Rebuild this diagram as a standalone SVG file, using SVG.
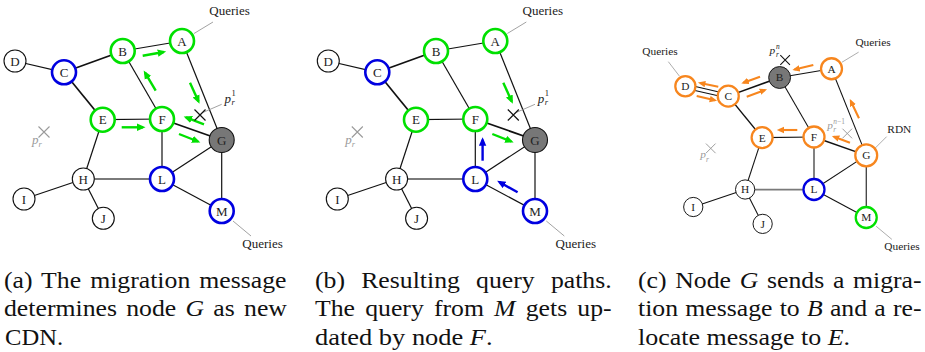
<svg xmlns="http://www.w3.org/2000/svg" width="925" height="352" viewBox="0 0 925 352">
<defs>
<marker id="mg" markerUnits="userSpaceOnUse" markerWidth="10" markerHeight="10" refX="6" refY="4" orient="auto"><path d="M0,0.3 L8.5,4 L0,7.7 z" fill="#00e000"/></marker>
<marker id="mb" markerUnits="userSpaceOnUse" markerWidth="10" markerHeight="10" refX="6" refY="4" orient="auto"><path d="M0,0.3 L8.5,4 L0,7.7 z" fill="#0000e0"/></marker>
<marker id="mo" markerUnits="userSpaceOnUse" markerWidth="10" markerHeight="10" refX="6" refY="4" orient="auto"><path d="M0,0.3 L8.5,4 L0,7.7 z" fill="#f7861e"/></marker>
<g id="graph-edges">
<line x1="64" y1="72.3" x2="122.7" y2="51" stroke-width="1.7"/>
<line x1="122.7" y1="51" x2="182" y2="41"/>
<line x1="64" y1="72.3" x2="102.7" y2="119.7" stroke-width="1.7"/>
<line x1="122.7" y1="51" x2="162" y2="119"/>
<line x1="182" y1="41" x2="221.7" y2="140"/>
<line x1="102.7" y1="119.7" x2="162" y2="119"/>
<line x1="162" y1="119" x2="221.7" y2="140" stroke-width="1.7"/>
<line x1="162" y1="119" x2="162" y2="179"/>
<line x1="162" y1="179" x2="221.7" y2="140"/>
<line x1="221.7" y1="140" x2="221.7" y2="211"/>
<line x1="162" y1="179" x2="221.7" y2="211"/>
<line x1="102.7" y1="119.7" x2="83.3" y2="179"/>
<line x1="83.3" y1="179" x2="162" y2="179" stroke="#7a7a7a" stroke-width="2"/>
<line x1="83.3" y1="179" x2="24" y2="199"/>
<line x1="83.3" y1="179" x2="103.3" y2="218.3"/>
<line x1="194" y1="33.5" x2="213" y2="22" stroke="#8a8a8a" stroke-width="0.8"/>
<line x1="233" y1="221" x2="251" y2="236" stroke="#8a8a8a" stroke-width="0.8"/>
</g>
<path id="cross" d="M-5.5,-5.5 L5.5,5.5 M-5.5,5.5 L5.5,-5.5"/>
</defs>

<!-- Panel (a) -->
<g id="panel-a">
<g id="a-connectors" stroke="#111" stroke-width="1.2" fill="none">
<line x1="15" y1="61" x2="64" y2="72.3"/>
<use href="#graph-edges"/>
<line x1="203.3" y1="112.3" x2="221.7" y2="104.3" stroke="#8a8a8a" stroke-width="0.8"/>
</g>
<g id="a-arrows" stroke="#00e000" stroke-width="2.4" marker-end="url(#mg)">
<line x1="142.7" y1="55.7" x2="163.7" y2="52"/>
<line x1="155.7" y1="90.7" x2="145" y2="72.7"/>
<line x1="190" y1="82.7" x2="198.5" y2="101.5"/>
<line x1="204" y1="124.3" x2="186" y2="117.4"/>
<line x1="121.7" y1="127.3" x2="143" y2="127.3"/>
<line x1="179" y1="134" x2="198" y2="141.5"/>
</g>
<g id="a-nodes" font-family="Liberation Serif, serif" font-size="13" text-anchor="middle">
<g id="a-node-D"><circle cx="15" cy="61" r="11" fill="#fff" stroke="#111" stroke-width="1.1"/><text font-family="Liberation Serif, serif" fill="#222" x="15" y="65.5">D</text></g>
<g id="a-node-C"><circle cx="64" cy="72.3" r="12" fill="#fff" stroke="#0000e0" stroke-width="2.6"/><text font-family="Liberation Serif, serif" fill="#222" x="64" y="76.8">C</text></g>
<g id="a-node-B"><circle cx="122.7" cy="51" r="12" fill="#fff" stroke="#00e000" stroke-width="2.6"/><text font-family="Liberation Serif, serif" fill="#222" x="122.7" y="55.5">B</text></g>
<g id="a-node-A"><circle cx="182" cy="41" r="12" fill="#fff" stroke="#00e000" stroke-width="2.6"/><text font-family="Liberation Serif, serif" fill="#222" x="182" y="45.5">A</text></g>
<g id="a-node-E"><circle cx="102.7" cy="119.7" r="12" fill="#fff" stroke="#00e000" stroke-width="2.6"/><text font-family="Liberation Serif, serif" fill="#222" x="102.7" y="124.2">E</text></g>
<g id="a-node-F"><circle cx="162" cy="119" r="12" fill="#fff" stroke="#00e000" stroke-width="2.6"/><text font-family="Liberation Serif, serif" fill="#222" x="162" y="123.5">F</text></g>
<g id="a-node-G"><circle cx="221.7" cy="140" r="12.5" fill="#777" stroke="#111" stroke-width="1.1"/><text font-family="Liberation Serif, serif" fill="#222" x="221.7" y="144.5">G</text></g>
<g id="a-node-L"><circle cx="162" cy="179" r="12" fill="#fff" stroke="#0000e0" stroke-width="2.6"/><text font-family="Liberation Serif, serif" fill="#222" x="162" y="183.5">L</text></g>
<g id="a-node-H"><circle cx="83.3" cy="179" r="11" fill="#fff" stroke="#111" stroke-width="1.1"/><text font-family="Liberation Serif, serif" fill="#222" x="83.3" y="183.5">H</text></g>
<g id="a-node-I"><circle cx="24" cy="199" r="11" fill="#fff" stroke="#111" stroke-width="1.1"/><text font-family="Liberation Serif, serif" fill="#222" x="24" y="203.5">I</text></g>
<g id="a-node-J"><circle cx="103.3" cy="218.3" r="11" fill="#fff" stroke="#111" stroke-width="1.1"/><text font-family="Liberation Serif, serif" fill="#222" x="103.3" y="222.8">J</text></g>
<g id="a-node-M"><circle cx="221.7" cy="211" r="12" fill="#fff" stroke="#0000e0" stroke-width="2.6"/><text font-family="Liberation Serif, serif" fill="#222" x="221.7" y="215.5">M</text></g>
</g>
<g id="a-labels" font-family="Liberation Serif, serif" font-size="13">
<text font-family="Liberation Serif, serif" fill="#222" text-anchor="middle" x="229.5" y="14.5">Queries</text>
<text font-family="Liberation Serif, serif" fill="#222" text-anchor="middle" x="262.5" y="248">Queries</text>
<use href="#cross" x="200" y="115" stroke="#111" stroke-width="1.2"/>
<text font-family="Liberation Serif, serif" font-style="italic" fill="#222" x="224.5" y="102.5">p</text>
<text font-family="Liberation Serif, serif" font-size="8.5" fill="#222" x="231.5" y="96">1</text>
<text font-family="Liberation Serif, serif" font-size="8.5" font-style="italic" fill="#222" x="231.5" y="105">r</text>
<use href="#cross" x="44" y="132" stroke="#9a9a9a" stroke-width="1.1"/>
<text font-family="Liberation Serif, serif" font-style="italic" fill="#9a9a9a" x="32" y="143.5">p</text>
<text font-family="Liberation Serif, serif" font-size="8.5" font-style="italic" fill="#9a9a9a" x="38.5" y="147">r</text>
</g>
</g>

<!-- Panel (b) -->
<g id="panel-b" transform="translate(313.3,0)">
<g id="b-connectors" stroke="#111" stroke-width="1.2" fill="none">
<line x1="15" y1="61" x2="64" y2="72.3"/>
<use href="#graph-edges"/>
<line x1="203.3" y1="112.3" x2="221.7" y2="104.3" stroke="#8a8a8a" stroke-width="0.8"/>
</g>
<g id="b-arrows" stroke-width="2.4">
<line x1="190" y1="82.7" x2="198.5" y2="101.5" stroke="#00e000" marker-end="url(#mg)"/>
<line x1="179" y1="134" x2="198" y2="141.5" stroke="#00e000" marker-end="url(#mg)"/>
<line x1="169.3" y1="160.7" x2="169.3" y2="139.7" stroke="#0000e0" marker-end="url(#mb)"/>
<line x1="204.3" y1="192.3" x2="186" y2="182" stroke="#0000e0" marker-end="url(#mb)"/>
</g>
<g id="b-nodes" font-family="Liberation Serif, serif" font-size="13" text-anchor="middle">
<g id="b-node-D"><circle cx="15" cy="61" r="11" fill="#fff" stroke="#111" stroke-width="1.1"/><text font-family="Liberation Serif, serif" fill="#222" x="15" y="65.5">D</text></g>
<g id="b-node-C"><circle cx="64" cy="72.3" r="12" fill="#fff" stroke="#0000e0" stroke-width="2.6"/><text font-family="Liberation Serif, serif" fill="#222" x="64" y="76.8">C</text></g>
<g id="b-node-B"><circle cx="122.7" cy="51" r="12" fill="#fff" stroke="#00e000" stroke-width="2.6"/><text font-family="Liberation Serif, serif" fill="#222" x="122.7" y="55.5">B</text></g>
<g id="b-node-A"><circle cx="182" cy="41" r="12" fill="#fff" stroke="#00e000" stroke-width="2.6"/><text font-family="Liberation Serif, serif" fill="#222" x="182" y="45.5">A</text></g>
<g id="b-node-E"><circle cx="102.7" cy="119.7" r="12" fill="#fff" stroke="#00e000" stroke-width="2.6"/><text font-family="Liberation Serif, serif" fill="#222" x="102.7" y="124.2">E</text></g>
<g id="b-node-F"><circle cx="162" cy="119" r="12" fill="#fff" stroke="#00e000" stroke-width="2.6"/><text font-family="Liberation Serif, serif" fill="#222" x="162" y="123.5">F</text></g>
<g id="b-node-G"><circle cx="221.7" cy="140" r="12.5" fill="#777" stroke="#111" stroke-width="1.1"/><text font-family="Liberation Serif, serif" fill="#222" x="221.7" y="144.5">G</text></g>
<g id="b-node-L"><circle cx="162" cy="179" r="12" fill="#fff" stroke="#0000e0" stroke-width="2.6"/><text font-family="Liberation Serif, serif" fill="#222" x="162" y="183.5">L</text></g>
<g id="b-node-H"><circle cx="83.3" cy="179" r="11" fill="#fff" stroke="#111" stroke-width="1.1"/><text font-family="Liberation Serif, serif" fill="#222" x="83.3" y="183.5">H</text></g>
<g id="b-node-I"><circle cx="24" cy="199" r="11" fill="#fff" stroke="#111" stroke-width="1.1"/><text font-family="Liberation Serif, serif" fill="#222" x="24" y="203.5">I</text></g>
<g id="b-node-J"><circle cx="103.3" cy="218.3" r="11" fill="#fff" stroke="#111" stroke-width="1.1"/><text font-family="Liberation Serif, serif" fill="#222" x="103.3" y="222.8">J</text></g>
<g id="b-node-M"><circle cx="221.7" cy="211" r="12" fill="#fff" stroke="#0000e0" stroke-width="2.6"/><text font-family="Liberation Serif, serif" fill="#222" x="221.7" y="215.5">M</text></g>
</g>
<g id="b-labels" font-family="Liberation Serif, serif" font-size="13">
<text font-family="Liberation Serif, serif" fill="#222" text-anchor="middle" x="229.5" y="14.5">Queries</text>
<text font-family="Liberation Serif, serif" fill="#222" text-anchor="middle" x="262.5" y="248">Queries</text>
<use href="#cross" x="200" y="115" stroke="#111" stroke-width="1.2"/>
<text font-family="Liberation Serif, serif" font-style="italic" fill="#222" x="224.5" y="102.5">p</text>
<text font-family="Liberation Serif, serif" font-size="8.5" fill="#222" x="231.5" y="96">1</text>
<text font-family="Liberation Serif, serif" font-size="8.5" font-style="italic" fill="#222" x="231.5" y="105">r</text>
<use href="#cross" x="44" y="132" stroke="#9a9a9a" stroke-width="1.1"/>
<text font-family="Liberation Serif, serif" font-style="italic" fill="#9a9a9a" x="32" y="143.5">p</text>
<text font-family="Liberation Serif, serif" font-size="8.5" font-style="italic" fill="#9a9a9a" x="38.5" y="147">r</text>
</g>
</g>

<!-- Panel (c) -->
<g id="panel-c" transform="translate(672.25,32.875) scale(0.875)">
<g id="c-connectors" stroke="#111" stroke-width="1.2" fill="none">
<line x1="15.4" y1="58.8" x2="64.4" y2="70.1"/>
<line x1="14.6" y1="63.2" x2="63.6" y2="74.5"/>
<use href="#graph-edges"/>
<line x1="-4.5" y1="32.9" x2="8.1" y2="49.3" stroke="#8a8a8a" stroke-width="0.8"/>
<line x1="231.7" y1="131.9" x2="245" y2="118.6" stroke="#8a8a8a" stroke-width="0.8"/>
</g>
<g id="c-arrows" stroke="#f7861e" stroke-width="2.4" marker-end="url(#mo)">
<line x1="161.2" y1="36.7" x2="139.7" y2="41.9"/>
<line x1="100.3" y1="50.1" x2="81.3" y2="56.9"/>
<line x1="52.6" y1="61.5" x2="31.8" y2="57.3"/>
<line x1="27.9" y1="72.1" x2="48.8" y2="77"/>
<line x1="85.1" y1="72.9" x2="106" y2="65.2"/>
<line x1="213.4" y1="97.6" x2="204" y2="77.8"/>
<line x1="142.9" y1="111" x2="122" y2="111"/>
<line x1="203.1" y1="125.5" x2="184.8" y2="118.6"/>
</g>
<g id="c-nodes" font-family="Liberation Serif, serif" font-size="13" text-anchor="middle">
<g id="c-node-D"><circle cx="15" cy="61" r="11.5" fill="#fff" stroke="#f7861e" stroke-width="2.6"/><text font-family="Liberation Serif, serif" fill="#222" x="15" y="65.5">D</text></g>
<g id="c-node-C"><circle cx="64" cy="72.3" r="12" fill="#fff" stroke="#f7861e" stroke-width="2.6"/><text font-family="Liberation Serif, serif" fill="#222" x="64" y="76.8">C</text></g>
<g id="c-node-B"><circle cx="122.7" cy="51" r="12.5" fill="#777" stroke="#111" stroke-width="1.1"/><text font-family="Liberation Serif, serif" fill="#222" x="122.7" y="55.5">B</text></g>
<g id="c-node-A"><circle cx="182" cy="41" r="12" fill="#fff" stroke="#f7861e" stroke-width="2.6"/><text font-family="Liberation Serif, serif" fill="#222" x="182" y="45.5">A</text></g>
<g id="c-node-E"><circle cx="102.7" cy="119.7" r="12" fill="#fff" stroke="#f7861e" stroke-width="2.6"/><text font-family="Liberation Serif, serif" fill="#222" x="102.7" y="124.2">E</text></g>
<g id="c-node-F"><circle cx="162" cy="119" r="12" fill="#fff" stroke="#f7861e" stroke-width="2.6"/><text font-family="Liberation Serif, serif" fill="#222" x="162" y="123.5">F</text></g>
<g id="c-node-G"><circle cx="221.7" cy="140" r="12.5" fill="#fff" stroke="#f7861e" stroke-width="2.6"/><text font-family="Liberation Serif, serif" fill="#222" x="221.7" y="144.5">G</text></g>
<g id="c-node-L"><circle cx="162" cy="179" r="12" fill="#fff" stroke="#0000e0" stroke-width="2.6"/><text font-family="Liberation Serif, serif" fill="#222" x="162" y="183.5">L</text></g>
<g id="c-node-H"><circle cx="83.3" cy="179" r="11" fill="#fff" stroke="#111" stroke-width="1.1"/><text font-family="Liberation Serif, serif" fill="#222" x="83.3" y="183.5">H</text></g>
<g id="c-node-I"><circle cx="24" cy="199" r="11" fill="#fff" stroke="#111" stroke-width="1.1"/><text font-family="Liberation Serif, serif" fill="#222" x="24" y="203.5">I</text></g>
<g id="c-node-J"><circle cx="103.3" cy="218.3" r="11" fill="#fff" stroke="#111" stroke-width="1.1"/><text font-family="Liberation Serif, serif" fill="#222" x="103.3" y="222.8">J</text></g>
<g id="c-node-M"><circle cx="221.7" cy="211" r="12" fill="#fff" stroke="#00e000" stroke-width="2.6"/><text font-family="Liberation Serif, serif" fill="#222" x="221.7" y="215.5">M</text></g>
</g>
<g id="c-labels" font-family="Liberation Serif, serif" font-size="13">
<text font-family="Liberation Serif, serif" fill="#222" text-anchor="middle" x="-14" y="25.5">Queries</text>
<text font-family="Liberation Serif, serif" fill="#222" text-anchor="middle" x="229.5" y="14.5">Queries</text>
<text font-family="Liberation Serif, serif" fill="#222" text-anchor="middle" x="259.5" y="114">RDN</text>
<text font-family="Liberation Serif, serif" fill="#222" text-anchor="middle" x="262.5" y="248">Queries</text>
<use href="#cross" x="129" y="31" stroke="#111" stroke-width="1.2"/>
<text font-family="Liberation Serif, serif" font-style="italic" fill="#222" x="111" y="24">p</text>
<text font-family="Liberation Serif, serif" font-size="8.5" font-style="italic" fill="#222" x="118.5" y="18.5">n</text>
<text font-family="Liberation Serif, serif" font-size="8.5" font-style="italic" fill="#222" x="118.5" y="27">r</text>
<use href="#cross" x="200" y="115" stroke="#9a9a9a" stroke-width="1.1"/>
<text font-family="Liberation Serif, serif" font-style="italic" fill="#9a9a9a" x="177" y="110">p</text>
<text font-family="Liberation Serif, serif" font-size="8.5" font-style="italic" fill="#9a9a9a" x="184" y="104">n<tspan font-style="normal">−1</tspan></text>
<text font-family="Liberation Serif, serif" font-size="8.5" font-style="italic" fill="#9a9a9a" x="184" y="113.5">r</text>
<use href="#cross" x="44" y="132" stroke="#9a9a9a" stroke-width="1.1"/>
<text font-family="Liberation Serif, serif" font-style="italic" fill="#9a9a9a" x="32" y="143.5">p</text>
<text font-family="Liberation Serif, serif" font-size="8.5" font-style="italic" fill="#9a9a9a" x="38.5" y="147">r</text>
</g>
</g>

<!-- Captions -->
<g id="captions" fill="#111" font-family="Liberation Serif, serif" font-size="23">
<text font-family="Liberation Serif" font-size="23" transform="translate(4,287.5) scale(1.12,1)" word-spacing="2.3">(a) The migration message</text>
<text font-family="Liberation Serif" font-size="23" transform="translate(4,316) scale(1.12,1)" word-spacing="2.5">determines node <tspan font-style="italic">G</tspan> as new</text>
<text font-family="Liberation Serif" font-size="23" transform="translate(5,344.5) scale(1.07,1)">CDN.</text>
<text font-family="Liberation Serif" font-size="23" transform="translate(315,287.5) scale(1.12,1)" word-spacing="8.7">(b) Resulting query paths.</text>
<text font-family="Liberation Serif" font-size="23" transform="translate(315,316) scale(1.12,1)" word-spacing="3.3">The query from <tspan font-style="italic">M</tspan> gets up-</text>
<text font-family="Liberation Serif" font-size="23" transform="translate(315,344.5) scale(1.15,1)">dated by node <tspan font-style="italic">F</tspan>.</text>
<text font-family="Liberation Serif" font-size="23" transform="translate(638,287.5) scale(1.12,1)" word-spacing="2">(c) Node <tspan font-style="italic">G</tspan> sends a migra-</text>
<text font-family="Liberation Serif" font-size="23" transform="translate(638,316) scale(1.12,1)" word-spacing="0.7">tion message to <tspan font-style="italic">B</tspan> and a re-</text>
<text font-family="Liberation Serif" font-size="23" transform="translate(638,344.5) scale(1.13,1)">locate message to <tspan font-style="italic">E</tspan>.</text>
</g>
</svg>
